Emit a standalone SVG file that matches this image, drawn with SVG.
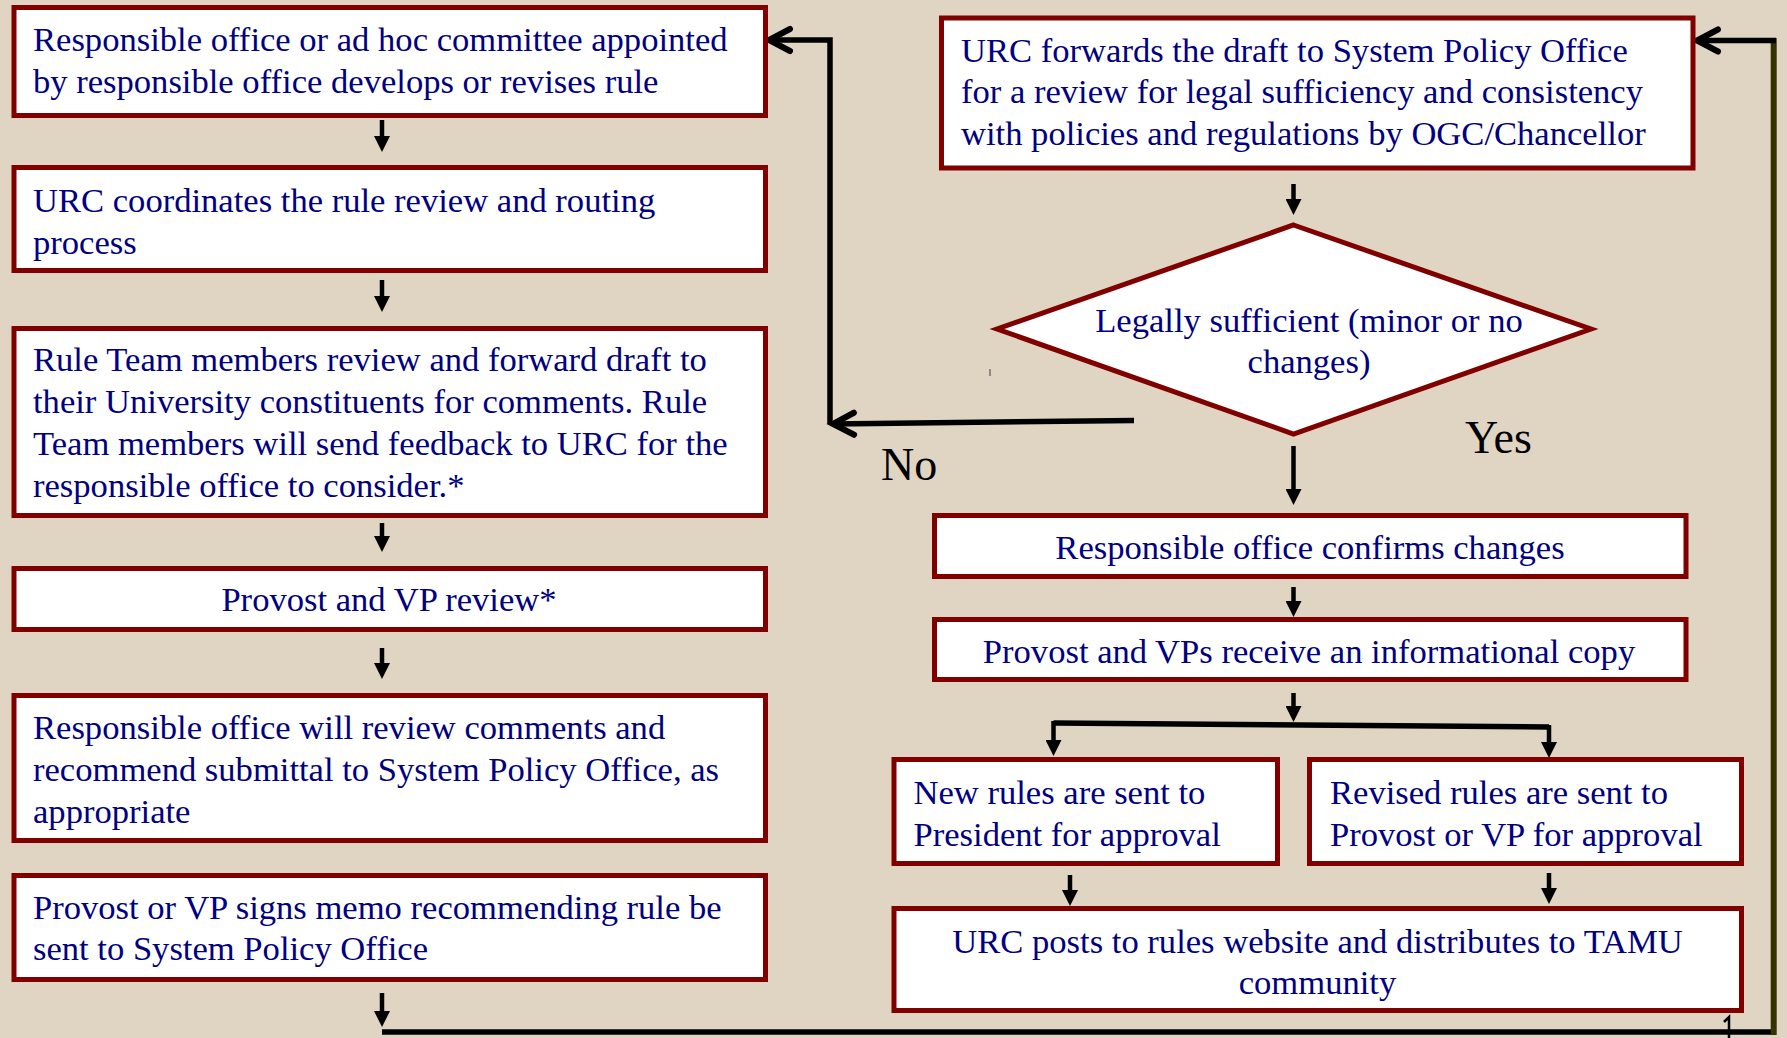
<svg xmlns="http://www.w3.org/2000/svg" width="1787" height="1038" viewBox="0 0 1787 1038">
<style>
.box{fill:#ffffff;stroke:#800000;stroke-width:5}
.t{font-family:"Liberation Serif","Times New Roman",serif;font-size:34.6px;fill:#000080}
.c{text-anchor:middle}
.lbl{font-family:"Liberation Serif","Times New Roman",serif;font-size:46px;fill:#000000}
.ar{stroke:#000;stroke-width:4.5;fill:none;marker-end:url(#ah)}
.thick{stroke:#000;stroke-width:5.5;fill:none}
.loop{stroke:#000;stroke-width:5.5;fill:none;marker-end:url(#chev)}
</style>
<defs>
<marker id="ah" markerUnits="userSpaceOnUse" viewBox="0 0 16 16" refX="8" refY="8" markerWidth="16" markerHeight="16" orient="auto">
<path d="M0,0 L16,8 L0,16 z" fill="#000"/>
</marker>
<marker id="chev" markerUnits="userSpaceOnUse" viewBox="-26 -15 30 30" refX="0" refY="0" markerWidth="30" markerHeight="30" orient="auto" overflow="visible">
<path d="M-21,-11 L0,0 L-21,11" fill="none" stroke="#000" stroke-width="6" stroke-linecap="round" stroke-linejoin="miter"/>
</marker>
</defs>
<rect x="0" y="0" width="1787" height="1038" fill="#e0d5c3"/>

<g id="connectors">
<line class="ar" x1="382" y1="120" x2="382" y2="144"/>
<line class="ar" x1="382" y1="280" x2="382" y2="304"/>
<line class="ar" x1="382" y1="523" x2="382" y2="544"/>
<line class="ar" x1="382" y1="648" x2="382" y2="671"/>
<line class="ar" x1="382" y1="808" x2="382" y2="830"/>
<line class="ar" x1="382" y1="993" x2="382" y2="1019"/>
<path class="thick" d="M382,1032 L1771,1032"/>
<path d="M1773.7,1035 L1773.7,38" stroke="#333300" stroke-width="6" fill="none"/>
<path class="loop" d="M1776,40.5 L1697,40.5"/>
<path class="loop" d="M1134,420.5 L833,424"/>
<path class="loop" d="M830,424 L830,40 L769,40"/>
<line class="ar" x1="1293.5" y1="184" x2="1293.5" y2="207"/>
<line class="ar" x1="1293.5" y1="446" x2="1293.5" y2="497"/>
<line class="ar" x1="1293.5" y1="587" x2="1293.5" y2="609"/>
<line class="ar" x1="1293.5" y1="693" x2="1293.5" y2="714"/>
<path class="thick" d="M1053.5,723 L1549,727"/>
<line class="ar" x1="1053.5" y1="721" x2="1053.5" y2="748"/>
<line class="ar" x1="1549" y1="725" x2="1549" y2="750"/>
<line class="ar" x1="1070" y1="875" x2="1070" y2="898"/>
<line class="ar" x1="1549" y1="873" x2="1549" y2="896"/>
<path d="M1724,1022 L1729,1017 L1729,1038" stroke="#000" stroke-width="2.5" fill="none"/>
<line x1="990" y1="369" x2="990" y2="376" stroke="#555" stroke-width="1.2"/>
</g>

<g id="n1">
<rect class="box" x="14" y="7.5" width="751.5" height="108"/>
<text class="t" x="33" y="51">Responsible office or ad hoc committee appointed</text>
<text class="t" x="33" y="93">by responsible office develops or revises rule</text>
</g>
<g id="n2">
<rect class="box" x="14" y="167.5" width="751.5" height="103"/>
<text class="t" x="33" y="212">URC coordinates the rule review and routing</text>
<text class="t" x="33" y="254">process</text>
</g>
<g id="n3">
<rect class="box" x="14" y="328.5" width="751.5" height="187"/>
<text class="t" x="33" y="371">Rule Team members review and forward draft to</text>
<text class="t" x="33" y="413">their University constituents for comments. Rule</text>
<text class="t" x="33" y="455">Team members will send feedback to URC for the</text>
<text class="t" x="33" y="497">responsible office to consider.*</text>
</g>
<g id="n4">
<rect class="box" x="14" y="568.5" width="751.5" height="61"/>
<text class="t c" x="389" y="611">Provost and VP review*</text>
</g>
<g id="n5">
<rect class="box" x="14" y="695.5" width="751.5" height="145"/>
<text class="t" x="33" y="739">Responsible office will review comments and</text>
<text class="t" x="33" y="781">recommend submittal to System Policy Office, as</text>
<text class="t" x="33" y="823">appropriate</text>
</g>
<g id="n6">
<rect class="box" x="14" y="875.5" width="751.5" height="104"/>
<text class="t" x="33" y="919">Provost or VP signs memo recommending rule be</text>
<text class="t" x="33" y="960">sent to System Policy Office</text>
</g>

<g id="r1">
<rect class="box" x="941.5" y="18" width="751.5" height="150"/>
<text class="t" x="961" y="62">URC forwards the draft to System Policy Office</text>
<text class="t" x="961" y="103">for a review for legal sufficiency and consistency</text>
<text class="t" x="961" y="145">with policies and regulations by OGC/Chancellor</text>
</g>
<g id="decision">
<path d="M1293.5,225 L1591,329 L1293.5,434 L997,329 Z" fill="#fff" stroke="#800000" stroke-width="5"/>
<text class="t c" x="1309" y="332">Legally sufficient (minor or no</text>
<text class="t c" x="1309" y="373">changes)</text>
</g>
<g id="r2">
<rect class="box" x="934.5" y="515.5" width="751.5" height="61"/>
<text class="t c" x="1310" y="559">Responsible office confirms changes</text>
</g>
<g id="r3">
<rect class="box" x="934.5" y="619.5" width="751.5" height="60"/>
<text class="t c" x="1309" y="663">Provost and VPs receive an informational copy</text>
</g>
<g id="r4">
<rect class="box" x="894" y="759.5" width="383.5" height="104"/>
<text class="t" x="913.5" y="804">New rules are sent to</text>
<text class="t" x="913.5" y="846">President for approval</text>
</g>
<g id="r5">
<rect class="box" x="1309.5" y="759.5" width="432" height="104"/>
<text class="t" x="1330" y="804">Revised rules are sent to</text>
<text class="t" x="1330" y="846">Provost or VP for approval</text>
</g>
<g id="r6">
<rect class="box" x="894" y="908.5" width="847.5" height="102"/>
<text class="t c" x="1317.5" y="953">URC posts to rules website and distributes to TAMU</text>
<text class="t c" x="1317.5" y="994">community</text>
</g>

<g id="labels">
<text class="lbl" x="881" y="480">No</text>
<text class="lbl" x="1465" y="453">Yes</text>
</g>
</svg>
